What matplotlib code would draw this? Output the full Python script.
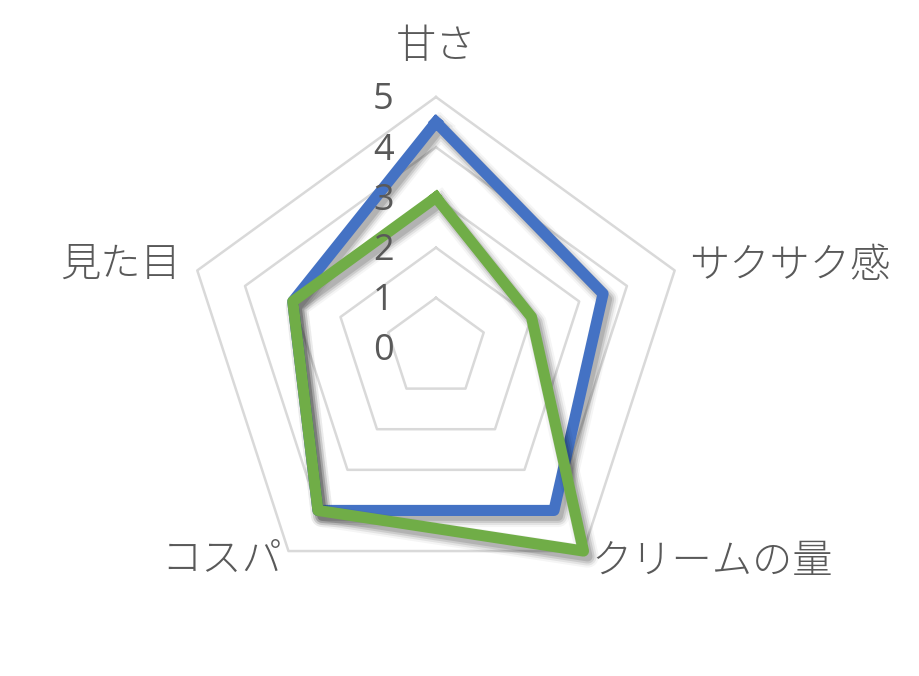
import numpy as np
import matplotlib
matplotlib.use("Agg")
import matplotlib.pyplot as plt
import matplotlib.patheffects as pe

categories = ["甘さ", "サクサク感", "クリームの量", "コスパ", "見た目"]
series_blue = [4.5, 3.5, 4, 4, 3]
series_green = [3, 2, 5, 4, 3]
tick_values = [0, 1, 2, 3, 4, 5]

FAM = ["Noto Sans CJK JP", "DejaVu Sans"]
TXT = "#595959"

fig = plt.figure(figsize=(9.19, 6.76), dpi=100)
ax = fig.add_axes([0.2013, 0.1139, 0.5462, 0.7426], projection="polar")
ax.set_theta_offset(np.pi / 2)
ax.set_theta_direction(-1)
ax.set_ylim(0, 5)
ax.grid(False)
ax.spines["polar"].set_visible(False)
ax.set_xticks([])
ax.set_yticks([])
ax.patch.set_visible(False)

n = len(categories)
theta = np.arange(n) * 2 * np.pi / n
theta_c = np.append(theta, theta[0])

for lv in tick_values[1:]:
    ax.plot(theta_c, [lv] * (n + 1), color="#d9d9d9", lw=1.8, clip_on=False, zorder=1)

shadow = [
    pe.SimpleLineShadow(offset=(3, -4), shadow_color="black", alpha=0.04, linewidth=16),
    pe.SimpleLineShadow(offset=(3, -4), shadow_color="black", alpha=0.07, linewidth=13),
    pe.SimpleLineShadow(offset=(3, -4), shadow_color="black", alpha=0.10, linewidth=10),
    pe.SimpleLineShadow(offset=(3, -4), shadow_color="black", alpha=0.12, linewidth=7),
    pe.Normal(),
]
for vals, col in [(series_blue, "#4472C4"), (series_green, "#70AD47")]:
    v = np.append(vals, vals[0])
    ax.plot(theta_c, v, color=col, lw=8, clip_on=False, zorder=3,
            solid_joinstyle="round", path_effects=shadow)

# category labels
label_pos = [(6.0, "center"), (5.30, "left"), (5.28, "left"), (5.22, "right"), (5.35, "right")]
for t, lab, (r, ha) in zip(theta, categories, label_pos):
    ax.text(t, r, lab, ha=ha, va="center", fontsize=29, color=TXT,
            family=FAM, fontweight="light")

# value tick labels
for v in tick_values:
    ax.annotate(str(v), xy=(0, v), xytext=(-38, -2.5), textcoords="offset points",
                ha="center", va="center", fontsize=26, color=TXT,
                family=["Open Sans", "DejaVu Sans"], annotation_clip=False)

fig.savefig("out.png", dpi=100)
